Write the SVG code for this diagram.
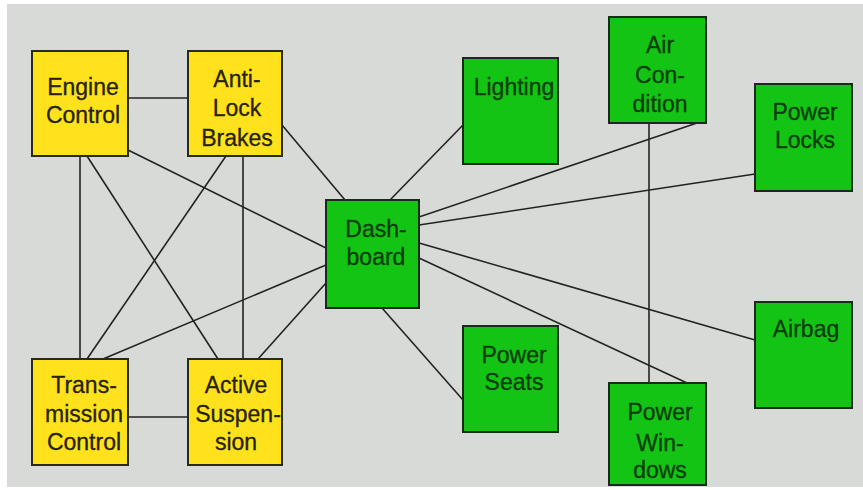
<svg xmlns="http://www.w3.org/2000/svg" width="863" height="490" viewBox="0 0 863 490">
<style>
.y{fill:#FFE21C;stroke:#2a2a1a;stroke-width:2}
.g{fill:#14C414;stroke:#1a2a1a;stroke-width:2}
.ty{font-family:"Liberation Sans",Arial,sans-serif;font-size:23px;fill:#262208;stroke:#262208;stroke-width:0.3;text-anchor:middle}
.tg{font-family:"Liberation Sans",Arial,sans-serif;font-size:23px;fill:#083c08;stroke:#083c08;stroke-width:0.3;text-anchor:middle}
#connectors line{stroke:#222;stroke-width:1.6}
</style>
<rect x="0" y="0" width="863" height="490" fill="#ffffff"/>
<rect x="7" y="4" width="856" height="483" fill="#D8DAD8"/>
<g id="connectors">
<line x1="128" y1="98" x2="188" y2="98"/>
<line x1="80" y1="156" x2="80" y2="359"/>
<line x1="243" y1="156" x2="243" y2="359"/>
<line x1="128" y1="417" x2="188" y2="417"/>
<line x1="87" y1="156" x2="218" y2="359"/>
<line x1="226" y1="156" x2="87" y2="359"/>
<line x1="128" y1="150" x2="326" y2="248"/>
<line x1="282" y1="125" x2="345" y2="200"/>
<line x1="103" y1="359" x2="326" y2="265"/>
<line x1="258" y1="359" x2="326" y2="283"/>
<line x1="390" y1="200" x2="463" y2="125"/>
<line x1="419" y1="217" x2="697" y2="123"/>
<line x1="419" y1="225" x2="755" y2="174"/>
<line x1="419" y1="243" x2="755" y2="340"/>
<line x1="419" y1="258" x2="687" y2="383"/>
<line x1="382" y1="308" x2="463" y2="400"/>
<line x1="649" y1="123" x2="649" y2="383"/>
</g>
<g id="engine-control">
<rect class="y" x="32" y="51" width="96" height="105"/>
<text class="ty" x="83" y="95">Engine</text>
<text class="ty" x="83" y="123">Control</text>
</g>
<g id="anti-lock-brakes">
<rect class="y" x="188" y="51" width="94" height="105"/>
<text class="ty" x="237" y="87">Anti-</text>
<text class="ty" x="237" y="116">Lock</text>
<text class="ty" x="237" y="146">Brakes</text>
</g>
<g id="transmission-control">
<rect class="y" x="32" y="359" width="96" height="106"/>
<text class="ty" x="84" y="393">Trans-</text>
<text class="ty" x="84" y="422">mission</text>
<text class="ty" x="84" y="450">Control</text>
</g>
<g id="active-suspension">
<rect class="y" x="188" y="359" width="94" height="106"/>
<text class="ty" x="236" y="393">Active</text>
<text class="ty" x="238" y="422">Suspen-</text>
<text class="ty" x="236" y="450">sion</text>
</g>
<g id="dashboard">
<rect class="g" x="326" y="200" width="93" height="108"/>
<text class="tg" x="376" y="237">Dash-</text>
<text class="tg" x="376" y="265">board</text>
</g>
<g id="lighting">
<rect class="g" x="463" y="58" width="95" height="106"/>
<text class="tg" x="514" y="95">Lighting</text>
</g>
<g id="air-condition">
<rect class="g" x="609" y="17" width="97" height="106"/>
<text class="tg" x="660" y="53">Air</text>
<text class="tg" x="660" y="83">Con-</text>
<text class="tg" x="660" y="112">dition</text>
</g>
<g id="power-locks">
<rect class="g" x="755" y="84" width="97" height="107"/>
<text class="tg" x="805" y="120">Power</text>
<text class="tg" x="805" y="148">Locks</text>
</g>
<g id="power-seats">
<rect class="g" x="463" y="326" width="95" height="106"/>
<text class="tg" x="514" y="363">Power</text>
<text class="tg" x="514" y="390">Seats</text>
</g>
<g id="airbag">
<rect class="g" x="755" y="302" width="97" height="106"/>
<text class="tg" x="806" y="337">Airbag</text>
</g>
<g id="power-windows">
<rect class="g" x="609" y="383" width="97" height="102"/>
<text class="tg" x="660" y="420">Power</text>
<text class="tg" x="660" y="451">Win-</text>
<text class="tg" x="660" y="478">dows</text>
</g>
</svg>
